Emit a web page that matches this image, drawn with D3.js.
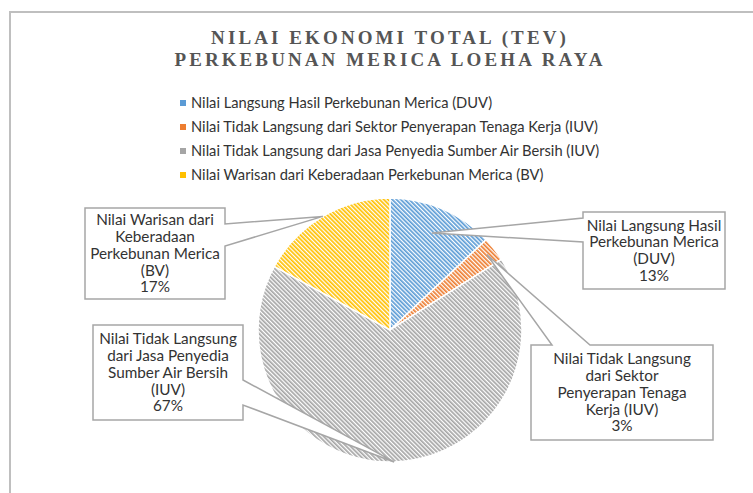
<!DOCTYPE html>
<html>
<head>
<meta charset="utf-8">
<script src="https://cdn.jsdelivr.net/npm/d3@7"></script>
<style>
  body { margin: 0; background: #fff; }
  svg { display: block; }
</style>
</head>
<body>
<div id="chart"></div>
<script>

var width = 753, height = 493;

// data
var categories = [
    "Nilai Langsung Hasil Perkebunan Merica (DUV)",
    "Nilai Tidak Langsung dari Sektor Penyerapan Tenaga Kerja (IUV)",
    "Nilai Tidak Langsung dari Jasa Penyedia Sumber Air Bersih (IUV)",
    "Nilai Warisan dari Keberadaan Perkebunan Merica (BV)"
];
var values = [13, 3, 67, 17];
var labelLines = [
    ["Nilai Langsung Hasil", "Perkebunan Merica", "(DUV)"],
    ["Nilai Tidak Langsung", "dari Sektor", "Penyerapan Tenaga", "Kerja (IUV)"],
    ["Nilai Tidak Langsung", "dari Jasa Penyedia", "Sumber Air Bersih", "(IUV)"],
    ["Nilai Warisan dari", "Keberadaan", "Perkebunan Merica", "(BV)"]
];
var titleLines = ["NILAI EKONOMI TOTAL (TEV)", "PERKEBUNAN MERICA LOEHA RAYA"];

var colors = ["#5b9bd5", "#ed7d31", "#a5a5a5", "#ffc000"];

var svg = d3.select("#chart").append("svg")
    .attr("width", width)
    .attr("height", height);

// outer frame (runs off the right / bottom edge)
svg.append("rect")
    .attr("x", 10).attr("y", 12)
    .attr("width", 800).attr("height", 600)
    .attr("fill", "none")
    .attr("stroke", "#bfbfbf")
    .attr("stroke-width", 2);

// hatch patterns
var defs = svg.append("defs");
colors.forEach(function(c, i){
    var p = defs.append("pattern")
        .attr("id", "hatch" + i)
        .attr("patternUnits", "userSpaceOnUse")
        .attr("width", 3).attr("height", 3)
        .attr("patternTransform", "rotate(-45)");
    p.append("rect").attr("width", 3).attr("height", 3).attr("fill", "#fff");
    p.append("rect").attr("width", 1.7).attr("height", 3).attr("fill", c);
});

// title
svg.append("g").selectAll("text")
    .data(titleLines)
    .enter().append("text")
    .attr("x", 390)
    .attr("y", (d, i) => 44 + i * 22)
    .attr("text-anchor", "middle")
    .attr("font-family", "'Liberation Serif', serif")
    .attr("font-weight", "bold")
    .attr("font-size", 19)
    .attr("letter-spacing", 3.1)
    .attr("fill", "#555")
    .text(d => d);

// legend
var legend = svg.append("g").attr("transform", "translate(180,103)");
var li = legend.selectAll("g")
    .data(categories)
    .enter().append("g")
    .attr("transform", (d, i) => "translate(0," + (i * 24) + ")");
li.append("rect")
    .attr("x", 0).attr("y", -3)
    .attr("width", 6).attr("height", 6)
    .attr("fill", (d, i) => colors[i]);
li.append("text")
    .attr("x", 11)
    .attr("dy", "0.35em")
    .attr("font-family", "Lato, sans-serif")
    .attr("font-size", 14.7)
    .attr("fill", "#333")
    .text(d => d);

// pie
var cx = 390, cy = 330, R = 132;
var pie = d3.pie().sort(null).value(d => d);
var arcs = pie(values);
var arc = d3.arc().innerRadius(0).outerRadius(R);

var g = svg.append("g").attr("transform", "translate(" + cx + "," + cy + ")");
g.selectAll("path")
    .data(arcs)
    .enter().append("path")
    .attr("d", arc)
    .attr("fill", (d, i) => "url(#hatch" + i + ")")
    .attr("stroke", "#fff")
    .attr("stroke-width", 1.5);

// callout boxes
var callouts = [
    {x: 583, y: 212, w: 142, h: 77, side: "left",  b0: 218, b1: 242, k: 0.8},
    {x: 531, y: 345, w: 182, h: 95, side: "top",   b0: 552, b1: 590, k: 0.93},
    {x: 93,  y: 325, w: 150, h: 95, side: "right", b0: 380, b1: 405, k: 1.0},
    {x: 85,  y: 208, w: 140, h: 91, side: "right", b0: 224, b1: 246, k: 1.0}
];

var calloutPath = function(c, tip){
    var l = c.x, t = c.y, r = c.x + c.w, b = c.y + c.h;
    var tx = tip[0], ty = tip[1];
    if (c.side == "left")
        return "M" + l + "," + t + "H" + r + "V" + b + "H" + l + "V" + c.b1 + "L" + tx + "," + ty + "L" + l + "," + c.b0 + "Z";
    if (c.side == "top")
        return "M" + l + "," + t + "H" + c.b0 + "L" + tx + "," + ty + "L" + c.b1 + "," + t + "H" + r + "V" + b + "H" + l + "Z";
    return "M" + l + "," + t + "H" + r + "V" + c.b0 + "L" + tx + "," + ty + "L" + r + "," + c.b1 + "V" + b + "H" + l + "Z";
}

var labels = svg.append("g").selectAll("g")
    .data(arcs)
    .enter().append("g");

labels.append("path")
    .attr("d", function(d, i){
        var c = callouts[i];
        var tipArc = d3.arc().innerRadius(R * c.k).outerRadius(R * c.k);
        var p = tipArc.centroid(d);
        return calloutPath(c, [cx + p[0], cy + p[1]]);
    })
    .attr("fill", "#fff")
    .attr("stroke", "#a6a6a6")
    .attr("stroke-width", 1.5);

labels.each(function(d, i){
    var c = callouts[i];
    var lines = labelLines[i].concat([d.data + "%"]);
    var lh = 16.8;
    var y0 = c.y + c.h / 2 - (lines.length - 1) * lh / 2;
    d3.select(this).selectAll("text")
        .data(lines)
        .enter().append("text")
        .attr("x", c.x + c.w / 2)
        .attr("y", (t, j) => y0 + j * lh)
        .attr("dy", "0.35em")
        .attr("text-anchor", "middle")
        .attr("font-family", "Lato, sans-serif")
        .attr("font-size", 15.3)
        .attr("fill", "#333")
        .text(t => t);
});

</script>
</body>
</html>
